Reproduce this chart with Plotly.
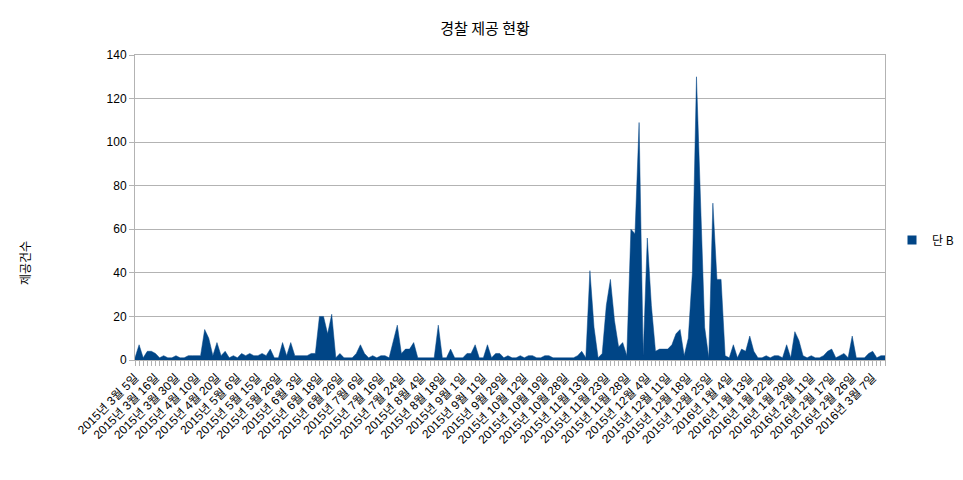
import plotly.graph_objects as go

# ---- data ----
values = [
    1, 7, 1, 4, 4, 3, 1, 2, 1, 1,
    2, 1, 1, 2, 2, 2, 2, 14, 10, 2,
    8, 2, 4, 1, 2, 1, 3, 2, 3, 2,
    2, 3, 2, 5, 1, 1, 8, 2, 8, 2,
    2, 2, 2, 3, 3, 20, 20, 12, 21, 1,
    3, 1, 1, 1, 3, 7, 3, 1, 2, 1,
    2, 2, 1, 8, 16, 3, 5, 5, 8, 1,
    1, 1, 1, 1, 16, 1, 1, 5, 1, 1,
    1, 3, 3, 7, 1, 1, 7, 1, 3, 3,
    1, 2, 1, 1, 2, 1, 2, 2, 1, 1,
    2, 2, 1, 1, 1, 1, 1, 1, 2, 4,
    1, 41, 15, 1, 3, 25, 37, 18, 6, 8,
    2, 60, 58, 109, 2, 56, 25, 4, 5, 5,
    5, 7, 12, 14, 2, 10, 40, 130, 73, 15,
    1, 72, 37, 37, 2, 1, 7, 1, 5, 4,
    11, 4, 1, 1, 2, 1, 2, 2, 1, 7,
    1, 13, 9, 2, 1, 2, 1, 1, 2, 4,
    5, 1, 2, 3, 1, 11, 1, 1, 1, 3,
    4, 1, 2, 2,
]

# date labels shown on every 5th category
date_labels = [
    "2015년 3월 5일", "2015년 3월 16일", "2015년 3월 30일", "2015년 4월 10일",
    "2015년 4월 20일", "2015년 5월 6일", "2015년 5월 15일", "2015년 5월 26일",
    "2015년 6월 3일", "2015년 6월 18일", "2015년 6월 26일", "2015년 7월 6일",
    "2015년 7월 16일", "2015년 7월 24일", "2015년 8월 4일", "2015년 8월 18일",
    "2015년 9월 1일", "2015년 9월 11일", "2015년 9월 29일", "2015년 10월 12일",
    "2015년 10월 19일", "2015년 10월 28일", "2015년 11월 13일", "2015년 11월 23일",
    "2015년 11월 28일", "2015년 12월 4일", "2015년 12월 11일", "2015년 12월 18일",
    "2015년 12월 25일", "2016년 1월 4일", "2016년 1월 13일", "2016년 1월 22일",
    "2016년 1월 28일", "2016년 2월 11일", "2016년 2월 17일", "2016년 2월 26일",
    "2016년 3월 7일",
]
label_step = 5

title_text = "경찰 제공 현황"
y_title = "제공건수"
series_name = "단 B"
y_ticks = [0, 20, 40, 60, 80, 100, 120, 140]

# ---- figure ----
n = len(values)
x_idx = list(range(n))
tick_text = [date_labels[i // label_step] if i % label_step == 0 and i // label_step < len(date_labels) else ""
             for i in x_idx]

FONT = "Liberation Sans, Noto Sans CJK KR, sans-serif"
GRID = "#b3b3b3"
BLUE = "#004586"

# page body has an 8px margin, so the figure is sized/placed to compensate
W, H = 955, 472
L, T, PW, PH = 127, 47, 750, 305

fig = go.Figure()
fig.add_trace(go.Scatter(
    x=x_idx, y=values, name=series_name, mode="lines",
    line=dict(color=BLUE, width=0.5, shape="linear"),
    fill="tozeroy", fillcolor=BLUE,
    hoverinfo="skip", showlegend=False,
))
# legend entry drawn as a square swatch, like the reference
fig.add_trace(go.Scatter(
    x=[None], y=[None], name=series_name, mode="markers",
    marker=dict(symbol="square", size=9, color=BLUE),
    showlegend=True,
))

fig.update_layout(
    width=W, height=H,
    margin=dict(l=L, r=W - L - PW, t=T, b=H - T - PH, autoexpand=False),
    paper_bgcolor="white", plot_bgcolor="white",
    font=dict(family=FONT, size=12, color="#000000"),
    title=dict(text=title_text, x=477 / W, xanchor="center", y=1 - 21 / H, yanchor="middle",
               font=dict(family="Noto Sans CJK KR, sans-serif", size=15, color="#000000")),
    showlegend=True,
    legend=dict(xref="container", yref="container", x=884 / W, y=1 - 232 / H,
                xanchor="left", yanchor="middle",
                font=dict(family="Noto Sans CJK KR, Liberation Sans, sans-serif", size=12),
                bgcolor="rgba(0,0,0,0)", itemwidth=30, tracegroupgap=0),
    xaxis=dict(
        range=[0, n - 1], tickmode="array", tickvals=x_idx, ticktext=tick_text,
        tickangle=-45, ticks="outside", ticklen=5, tickcolor=GRID,
        showline=True, linecolor=GRID, linewidth=1, mirror=True,
        showgrid=False, zeroline=False, automargin=False,
        tickfont=dict(family=FONT, size=12, color="#000000"),
    ),
    yaxis=dict(
        range=[0, 140], tickmode="array", tickvals=y_ticks,
        ticks="outside", ticklen=5, tickcolor=GRID,
        showline=True, linecolor=GRID, linewidth=1, mirror=True,
        showgrid=True, gridcolor=GRID, gridwidth=1, zeroline=False, automargin=False,
        tickfont=dict(family=FONT, size=12, color="#000000"),
    ),
    annotations=[dict(
        text=y_title, textangle=-90, xref="paper", yref="paper",
        x=-111 / PW, y=97 / PH, xanchor="center", yanchor="middle",
        showarrow=False, font=dict(family="Noto Sans CJK KR, sans-serif", size=12, color="#000000"),
    )],
)

fig.write_html("out.html")
